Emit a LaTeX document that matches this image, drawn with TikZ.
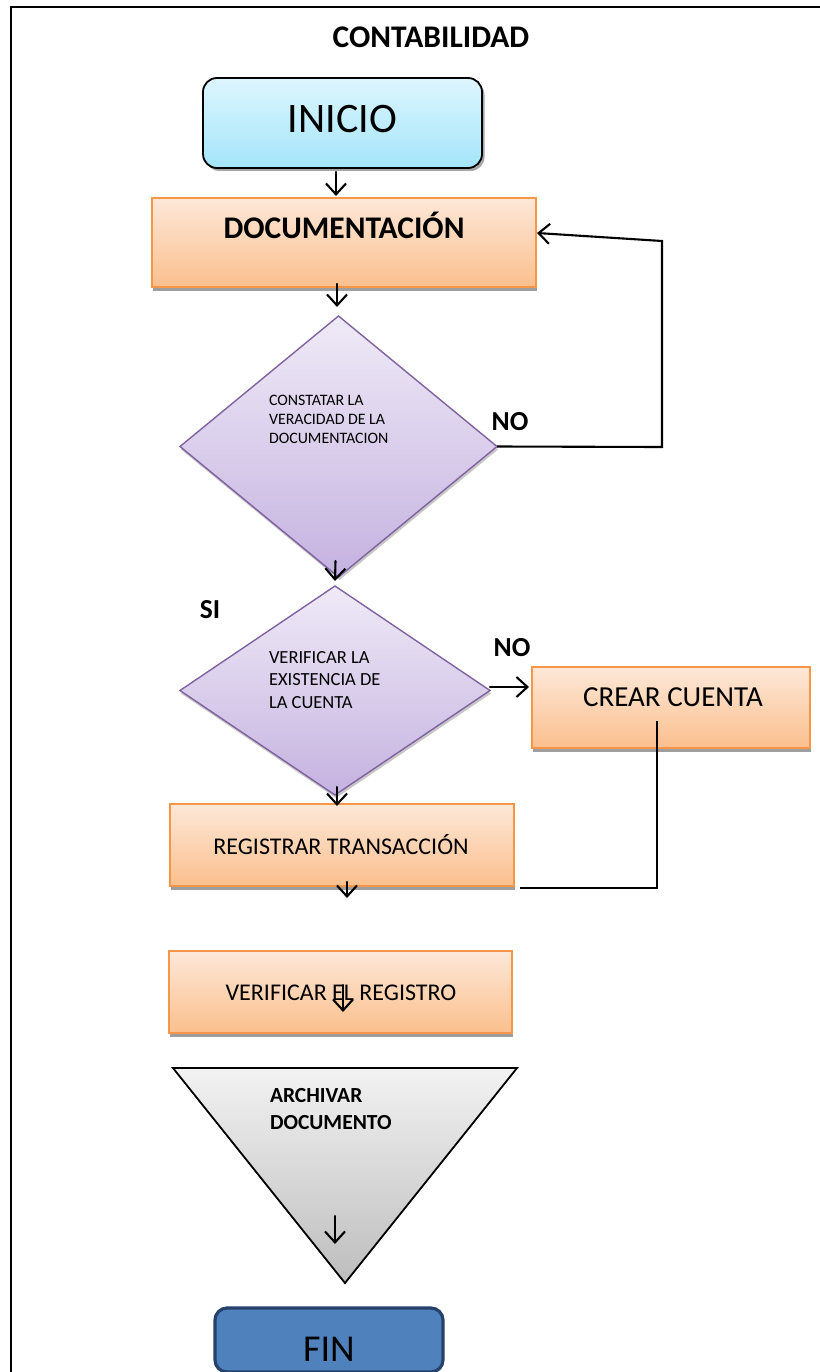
\documentclass[tikz,border=0pt]{standalone}
\usepackage{fontspec}
\setmainfont{Carlito}
\usetikzlibrary{shapes.geometric,shadows,arrows.meta}

\definecolor{orangeline}{HTML}{F79646}
\definecolor{orangetop}{HTML}{FDE8D8}
\definecolor{orangebot}{HTML}{FBBF8D}
\definecolor{cyantop}{HTML}{DDF6FE}
\definecolor{cyanbot}{HTML}{A3E5FA}
\definecolor{lilacline}{HTML}{7F63A1}
\definecolor{lilactop}{HTML}{EFEAF7}
\definecolor{lilacbot}{HTML}{C5B2E0}
\definecolor{greytop}{HTML}{F2F2F2}
\definecolor{greybot}{HTML}{BDBDBD}
\definecolor{finfill}{HTML}{4F81BD}
\definecolor{finline}{HTML}{26426A}

\begin{document}
\begin{tikzpicture}[x=1pt,y=-1pt,
  every node/.style={inner sep=0pt, outer sep=0pt},
  procbox/.style={rectangle, draw=orangeline, line width=1.8pt,
    top color=orangetop, bottom color=orangebot,
    drop shadow={shadow xshift=1pt, shadow yshift=-4pt, fill=black!38, opacity=1}},
  startbox/.style={rectangle, rounded corners=14pt, draw=black, line width=1.8pt,
    top color=cyantop, bottom color=cyanbot,
    drop shadow={shadow xshift=2.5pt, shadow yshift=-3pt, fill=black!35, opacity=1}},
  decision/.style={diamond, draw=lilacline, line width=1.4pt,
    top color=lilactop, bottom color=lilacbot,
    drop shadow={shadow xshift=1pt, shadow yshift=-3pt, fill=black!22, opacity=1}},
  endbox/.style={rectangle, rounded corners=12pt, draw=finline, line width=3.2pt, fill=finfill},
  flow/.style={line width=2.1pt, line cap=round, -{Straight Barb[length=11pt,width=20pt]}},
  plainline/.style={line width=2.1pt},
  lbl/.style={anchor=base, text=black},
  bigbold/.style={font=\fontsize{31.5}{38}\selectfont\bfseries},
  answer/.style={font=\fontsize{27.5}{33}\selectfont\bfseries},
]

% page and frame
\useasboundingbox (0,0) rectangle (819,1372);
\fill[white] (0,0) rectangle (819,1372);
\draw[line width=2.6pt] (11,1380) -- (11,7) -- (830,7);

% title
\node[lbl, bigbold] (title) at (431,48) {CONTABILIDAD};

% shapes
\node[startbox, minimum width=279, minimum height=90] (ini) at (342.5,123) {};
\node[lbl, font=\fontsize{42}{50}\selectfont] (tini) at (342.5,133) {INICIO};

\node[procbox, minimum width=384, minimum height=89] (doc) at (344,242.5) {};
\node[lbl, bigbold] (tdoc) at (344,239) {DOCUMENTACIÓN};

\node[decision, minimum width=317, minimum height=261] (d1) at (338.5,446.5) {};
\node[anchor=north west, align=left, font=\fontsize{15.9}{19.3}\selectfont] (td1)
  at (269,395) {CONSTATAR LA\\VERACIDAD DE LA\\DOCUMENTACION};

\node[decision, minimum width=310, minimum height=209] (d2) at (335,690.5) {};
\node[anchor=north west, align=left, font=\fontsize{18.5}{22.5}\selectfont] (td2)
  at (269,651) {VERIFICAR LA\\EXISTENCIA DE\\LA CUENTA};

\node[procbox, minimum width=278, minimum height=81] (cc) at (671,707.5) {};
\node[lbl, font=\fontsize{29}{35}\selectfont] (tcc) at (673,706) {CREAR CUENTA};

\node[procbox, minimum width=344, minimum height=82] (rt) at (342,845) {};
\node[lbl, font=\fontsize{24}{29}\selectfont] (trt) at (341,854) {REGISTRAR TRANSACCIÓN};

\node[procbox, minimum width=343, minimum height=82] (vr) at (340.5,992) {};
\node[lbl, font=\fontsize{24}{29}\selectfont] (tvr) at (341,1000.5) {VERIFICAR EL REGISTRO};

% archive triangle
\coordinate (tl) at (173,1068);
\coordinate (tr) at (517,1068);
\coordinate (tbm) at (345,1283);
\draw[line width=1.8pt, line join=miter, top color=greytop, bottom color=greybot]
  (tl) -- (tr) -- (tbm) -- cycle;
\node[anchor=north west, align=left, font=\fontsize{21.5}{26.7}\selectfont\bfseries] (ttri)
  at (270,1088.3) {ARCHIVAR\\DOCUMENTO};

\node[endbox, minimum width=228, minimum height=64] (fin) at (329,1340) {};
\node[lbl, font=\fontsize{38}{45}\selectfont] (tfin) at (329,1361.5) {FIN};

% answer labels
\node[lbl, answer] (no1) at (510,430) {NO};
\node[lbl, answer] (si) at (210,618) {SI};
\node[lbl, answer] (no2) at (512,656) {NO};

% connectors
\draw[flow] ([xshift=-6.5pt,yshift=-4pt]ini.south) -- ([xshift=-8pt,yshift=2pt]doc.north);
\draw[flow] ([xshift=-7pt,yshift=3pt]doc.south) -- ([xshift=-1.5pt,yshift=9pt]d1.north);

\coordinate (lp1) at (662,447);
\coordinate (lp2) at (662,241);
\draw[flow, line join=miter, line cap=butt] (d1.east) -- (lp1) -- (lp2) -- ([xshift=1pt,yshift=9.5pt]doc.east);

\draw[flow] ([xshift=-3pt,yshift=16pt]d1.south) -- ([yshift=5pt]d2.north);
\draw[flow] ([yshift=3.5pt]d2.east) -- ([xshift=-3pt,yshift=20.5pt]cc.west);
\draw[flow] ([xshift=2pt,yshift=8pt]d2.south) -- ([xshift=-5pt,yshift=-2pt]rt.north);

\coordinate (cr1) at (657,888);
\coordinate (cr2) at (520,888);
\draw[plainline, line join=miter] ([xshift=-14pt,yshift=-13.5pt]cc.center) -- (cr1) -- (cr2);

\coordinate (a5) at (347,898);
\draw[flow] ([xshift=5pt,yshift=4pt]rt.south) -- (a5);

\draw[flow] ([xshift=2.5pt,yshift=7pt]vr.center) -- ([xshift=2.5pt,yshift=-20pt]vr.center);

\coordinate (ta) at (335,1216);
\coordinate (tb) at (335,1244);
\draw[flow] (ta) -- (tb);

\end{tikzpicture}
\end{document}
